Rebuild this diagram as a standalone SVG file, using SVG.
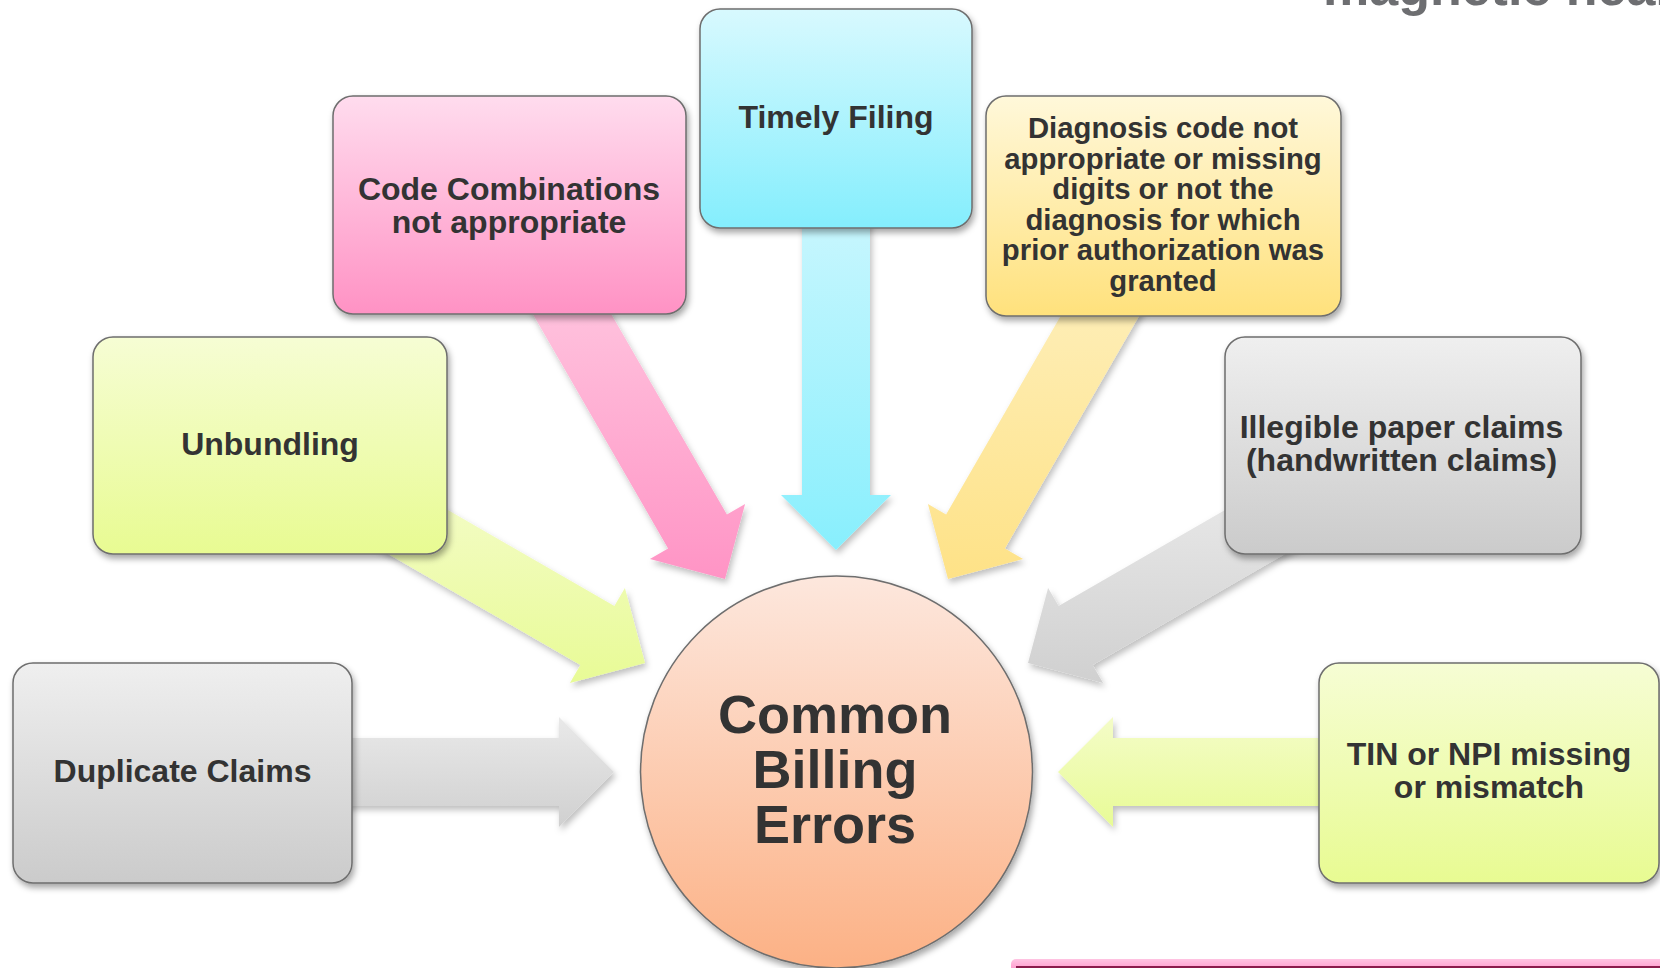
<svg xmlns="http://www.w3.org/2000/svg" width="1660" height="968" viewBox="0 0 1660 968">
<defs>
<linearGradient id="gGray" x1="0" y1="0" x2="0" y2="1"><stop offset="0" stop-color="#efefef"/><stop offset="1" stop-color="#cbcbcb"/></linearGradient>
<linearGradient id="gGreen" x1="0" y1="0" x2="0" y2="1"><stop offset="0" stop-color="#f6fdd4"/><stop offset="1" stop-color="#e8fb92"/></linearGradient>
<linearGradient id="gPink" x1="0" y1="0" x2="0" y2="1"><stop offset="0" stop-color="#ffdcee"/><stop offset="1" stop-color="#ff92c4"/></linearGradient>
<linearGradient id="gCyan" x1="0" y1="0" x2="0" y2="1"><stop offset="0" stop-color="#d8f9fe"/><stop offset="1" stop-color="#84eefd"/></linearGradient>
<linearGradient id="gYellow" x1="0" y1="0" x2="0" y2="1"><stop offset="0" stop-color="#fff8da"/><stop offset="1" stop-color="#ffe17c"/></linearGradient>
<linearGradient id="gPeach" x1="0" y1="0" x2="0" y2="1"><stop offset="0" stop-color="#fde7dd"/><stop offset="1" stop-color="#fcb185"/></linearGradient>
<linearGradient id="aGray" x1="0" y1="0" x2="0" y2="1"><stop offset="0" stop-color="#e9e9e9"/><stop offset="1" stop-color="#d0d0d0"/></linearGradient>
<linearGradient id="aGreen" x1="0" y1="0" x2="0" y2="1"><stop offset="0" stop-color="#f4fcc8"/><stop offset="1" stop-color="#e8fb96"/></linearGradient>
<linearGradient id="aPink" x1="0" y1="0" x2="0" y2="1"><stop offset="0" stop-color="#ffcbe2"/><stop offset="1" stop-color="#ff94c5"/></linearGradient>
<linearGradient id="aCyan" x1="0" y1="0" x2="0" y2="1"><stop offset="0" stop-color="#cdf7fe"/><stop offset="1" stop-color="#88effd"/></linearGradient>
<linearGradient id="aYellow" x1="0" y1="0" x2="0" y2="1"><stop offset="0" stop-color="#fef0bf"/><stop offset="1" stop-color="#fee287"/></linearGradient>
<linearGradient id="gBar" x1="0" y1="0" x2="0" y2="1"><stop offset="0" stop-color="#ffc4e2"/><stop offset="1" stop-color="#ff8cc6"/></linearGradient>
<filter id="sh" x="-10%" y="-10%" width="125%" height="130%"><feDropShadow dx="2" dy="4" stdDeviation="3" flood-color="#000" flood-opacity="0.35"/></filter>
<filter id="ash" x="-10%" y="-10%" width="125%" height="130%"><feDropShadow dx="2" dy="4" stdDeviation="3" flood-color="#000" flood-opacity="0.25"/></filter>
<style>
.box{stroke:#6e6e6e;stroke-width:1.5;filter:url(#sh)}
.arr{filter:url(#ash)}
.t{font-family:"Liberation Sans",Arial,sans-serif;font-weight:bold;font-size:32px;fill:#333333;text-anchor:middle}
.td{font-size:29.3px}
.tc{font-size:54px}
.logo{font-family:"Liberation Sans",Arial,sans-serif;font-weight:bold;font-size:52px;fill:#6d6e71}
</style>
</defs>
<rect width="1660" height="968" fill="#ffffff"/>
<text class="logo" x="1323" y="5">magnetic health</text>
<g id="connectors">
<polygon class="arr" fill="url(#aGray)" points="614,772 559,717 559,738 314,738 314,806 559,806 559,827"/>
<polygon class="arr" fill="url(#aGreen)" points="645,663 624.9,587.9 614.4,606.1 402.2,483.6 368.2,542.4 580.4,664.9 569.9,683.1"/>
<polygon class="arr" fill="url(#aPink)" points="725,579 745.1,503.9 726.9,514.4 574.4,250.2 515.6,284.2 668.1,548.4 649.9,558.9"/>
<polygon class="arr" fill="url(#aCyan)" points="836,550 891,495 870,495 870,190 802,190 802,495 781,495"/>
<polygon class="arr" fill="url(#aYellow)" points="948,579 927.9,503.9 946.1,514.4 1098.6,250.2 1157.4,284.2 1004.9,548.4 1023.1,558.9"/>
<polygon class="arr" fill="url(#aGray)" points="1028,663 1048.1,587.9 1058.6,606.1 1270.8,483.6 1304.8,542.4 1092.6,664.9 1103.1,683.1"/>
<polygon class="arr" fill="url(#aGreen)" points="1058,772 1113,827 1113,806 1358,806 1358,738 1113,738 1113,717"/>
</g>
<g id="duplicate">
<rect class="box" x="13" y="663" width="339" height="220" rx="20" fill="url(#gGray)"/>
<text class="t" x="182.5" y="782">Duplicate Claims</text>
</g>
<g id="unbundling">
<rect class="box" x="93" y="337" width="354" height="217" rx="20" fill="url(#gGreen)"/>
<text class="t" x="270" y="455">Unbundling</text>
</g>
<g id="code">
<rect class="box" x="333" y="96" width="353" height="218" rx="20" fill="url(#gPink)"/>
<text class="t" x="509" y="199.5">Code Combinations</text>
<text class="t" x="509" y="232.5">not appropriate</text>
</g>
<g id="timely">
<rect class="box" x="700" y="9" width="272" height="219" rx="20" fill="url(#gCyan)"/>
<text class="t" x="836" y="128">Timely Filing</text>
</g>
<g id="diagnosis">
<rect class="box" x="986" y="96" width="355" height="220" rx="20" fill="url(#gYellow)"/>
<text class="t td" x="1163" y="138">Diagnosis code not</text>
<text class="t td" x="1163" y="168.5">appropriate or missing</text>
<text class="t td" x="1163" y="199">digits or not the</text>
<text class="t td" x="1163" y="229.5">diagnosis for which</text>
<text class="t td" x="1163" y="260">prior authorization was</text>
<text class="t td" x="1163" y="290.5">granted</text>
</g>
<g id="illegible">
<rect class="box" x="1225" y="337" width="356" height="217" rx="20" fill="url(#gGray)"/>
<text class="t" x="1401.5" y="438">Illegible paper claims</text>
<text class="t" x="1401.5" y="471">(handwritten claims)</text>
</g>
<g id="tin">
<rect class="box" x="1319" y="663" width="340" height="220" rx="20" fill="url(#gGreen)"/>
<text class="t" x="1489" y="765">TIN or NPI missing</text>
<text class="t" x="1489" y="798">or mismatch</text>
</g>
<g id="center">
<circle cx="836.5" cy="772" r="196" fill="url(#gPeach)" stroke="#6e6e6e" stroke-width="1.5" filter="url(#sh)"/>
<text class="t tc" x="835" y="733">Common</text>
<text class="t tc" x="835" y="788">Billing</text>
<text class="t tc" x="835" y="843">Errors</text>
</g>
<rect x="1011" y="959" width="670" height="14" rx="5" fill="url(#gBar)"/>
<rect x="1016" y="966" width="644" height="2" fill="#8a1b4c"/>
</svg>
